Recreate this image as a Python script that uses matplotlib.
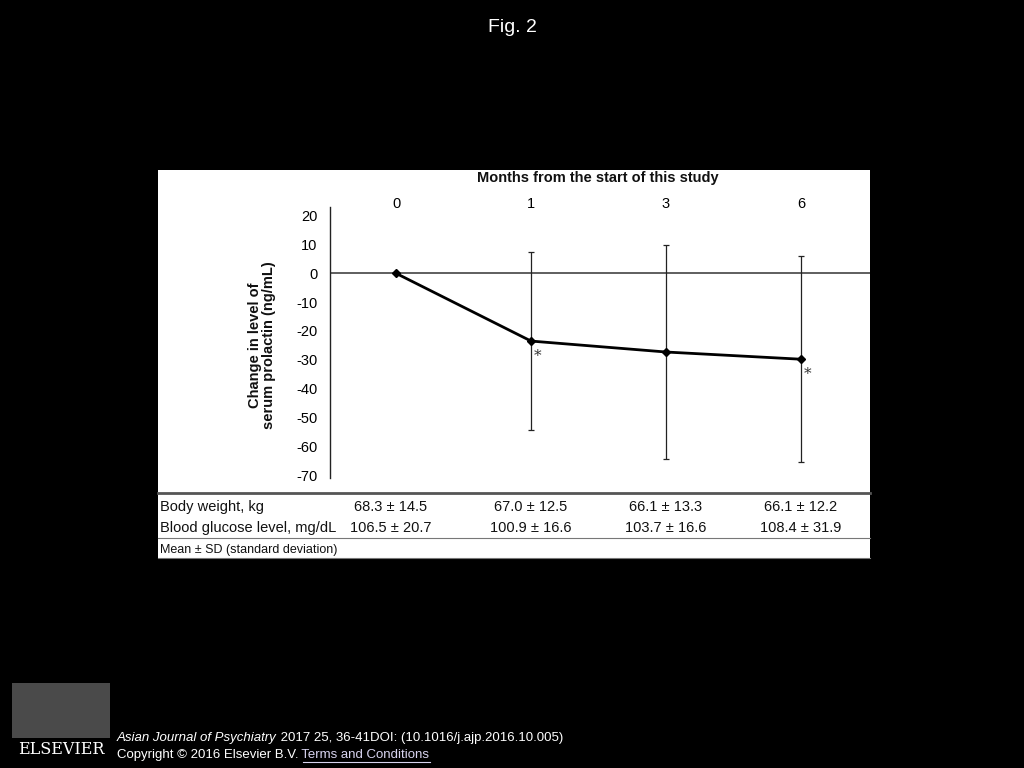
import numpy as np
import matplotlib
matplotlib.use("Agg")
import matplotlib.pyplot as plt
from matplotlib.patches import Rectangle
from matplotlib.transforms import blended_transform_factory

plt.rcParams['font.family'] = ['Liberation Sans', 'DejaVu Sans']
plt.rcParams['axes.unicode_minus'] = False

# данные
months = ['0', '1', '3', '6']
prl_change = [0.0, -23.5, -27.3, -29.8]
prl_sd = [0.0, 31.0, 37.2, 35.7]
signif = [False, True, False, True]

row_names = ['Body weight, kg', 'Blood glucose level, mg/dL']
body_weight = ['68.3 ± 14.5', '67.0 ± 12.5', '66.1 ± 13.3', '66.1 ± 12.2']
glucose = ['106.5 ± 20.7', '100.9 ± 16.6', '103.7 ± 16.6', '108.4 ± 31.9']

W, H = 1024, 768
def fy(py):
    return 1 - py / H
def fx(px):
    return px / W

fig = plt.figure(figsize=(10.24, 7.68), dpi=100, facecolor='black')

# белая панель
fig.patches.append(Rectangle((fx(158), fy(558)), fx(870) - fx(158), fy(170) - fy(558),
                             transform=fig.transFigure, facecolor='white', edgecolor='none', zorder=-5))

ax = fig.add_axes([fx(330), fy(478), fx(870) - fx(330), (478 - 207) / H])
ax.set_facecolor('none')
ax.set_zorder(2)
x = np.arange(len(months))

ax.axhline(0, color='#333333', lw=1.1, zorder=1)
ax.errorbar(x, prl_change, yerr=prl_sd, fmt='none', ecolor='#222222', elinewidth=0.9,
            capsize=2, capthick=0.9, zorder=2)
ax.plot(x, prl_change, color='black', lw=2, marker='D', ms=4, zorder=3)

for xi, yi, s in zip(x, prl_change, signif):
    if s:
        ax.annotate('*', xy=(xi, yi), xytext=(7, -15), textcoords='offset pixels',
                    fontsize=11, family='DejaVu Serif', color='#333333', ha='center', va='center')

ax.set_xlim(-0.489, 3.511)
ax.set_ylim(-71, 23)
ax.set_yticks(np.arange(-70, 21, 10))
ax.tick_params(axis='y', length=0, pad=9, labelsize=10.5)
ax.set_xticks(x)
ax.set_xticklabels(months)
ax.xaxis.tick_top()
ax.tick_params(axis='x', length=0, pad=-3, labelsize=10.5)
for sp in ['top', 'right', 'bottom']:
    ax.spines[sp].set_visible(False)
ax.spines['left'].set_color('#222222')
ax.spines['left'].set_linewidth(1)

fig.text(fx(598), fy(178), 'Months from the start of this study', ha='center', va='center',
         fontsize=10.5, fontweight='bold', color='#111111')
fig.text(fx(262), fy(345), 'Change in level of\nserum prolactin (ng/mL)', ha='center', va='center',
         rotation=90, fontsize=10.5, fontweight='bold', color='#111111', multialignment='center',
         linespacing=1.05)

# таблица
tr = blended_transform_factory(ax.transData, fig.transFigure)
fig.add_artist(plt.Line2D([fx(158), fx(870)], [fy(493), fy(493)], transform=fig.transFigure,
                          color='#555555', lw=2))
fig.add_artist(plt.Line2D([fx(158), fx(870)], [fy(538), fy(538)], transform=fig.transFigure,
                          color='#777777', lw=0.8))
fig.add_artist(plt.Line2D([fx(158), fx(870)], [fy(558), fy(558)], transform=fig.transFigure,
                          color='#777777', lw=0.8))
for ry, name, vals in zip([507, 528], row_names, [body_weight, glucose]):
    fig.text(fx(160), fy(ry), name, ha='left', va='center', fontsize=10.5, color='#111111')
    for xi, v in zip(x, vals):
        fig.text(xi - 0.04 if xi == 0 else xi, fy(ry), v, transform=tr, ha='center', va='center',
                 fontsize=10.5, color='#111111')
fig.text(fx(160), fy(550), 'Mean ± SD (standard deviation)', ha='left', va='center',
         fontsize=9, color='#111111')

# подписи вокруг
fig.text(0.5, fy(27), 'Fig. 2', ha='center', va='center', fontsize=14, color='white')

r = fig.canvas.get_renderer()
t1 = fig.text(fx(117), fy(738), 'Asian Journal of Psychiatry', ha='left', va='center',
              fontsize=9.5, color='white', style='italic')
bb = t1.get_window_extent(r)
fig.text(bb.x1 / W, fy(738), ' 2017 25, 36-41DOI: (10.1016/j.ajp.2016.10.005)', ha='left',
         va='center', fontsize=9.5, color='white')
t2 = fig.text(fx(117), fy(755), 'Copyright © 2016 Elsevier B.V.', ha='left', va='center',
              fontsize=9.5, color='white')
bb2 = t2.get_window_extent(r)
t3 = fig.text(bb2.x1 / W, fy(755), ' Terms and Conditions', ha='left', va='center',
              fontsize=9.5, color='#d8d4f0')
bb3 = t3.get_window_extent(r)
fig.add_artist(plt.Line2D([bb2.x1 / W + 0.004, bb3.x1 / W], [fy(762), fy(762)],
                          transform=fig.transFigure, color='#d8d4f0', lw=0.8))

# логотип
fig.patches.append(Rectangle((fx(12), fy(738)), fx(98), 55 / H, transform=fig.transFigure,
                             facecolor='#6a6a6a', edgecolor='none', alpha=0.7, zorder=-5))
fig.text(fx(61), fy(750), 'ELSEVIER', ha='center', va='center', fontsize=11.5,
         family='DejaVu Serif', color='white')

plt.savefig('out.png', dpi=100, facecolor='black')
